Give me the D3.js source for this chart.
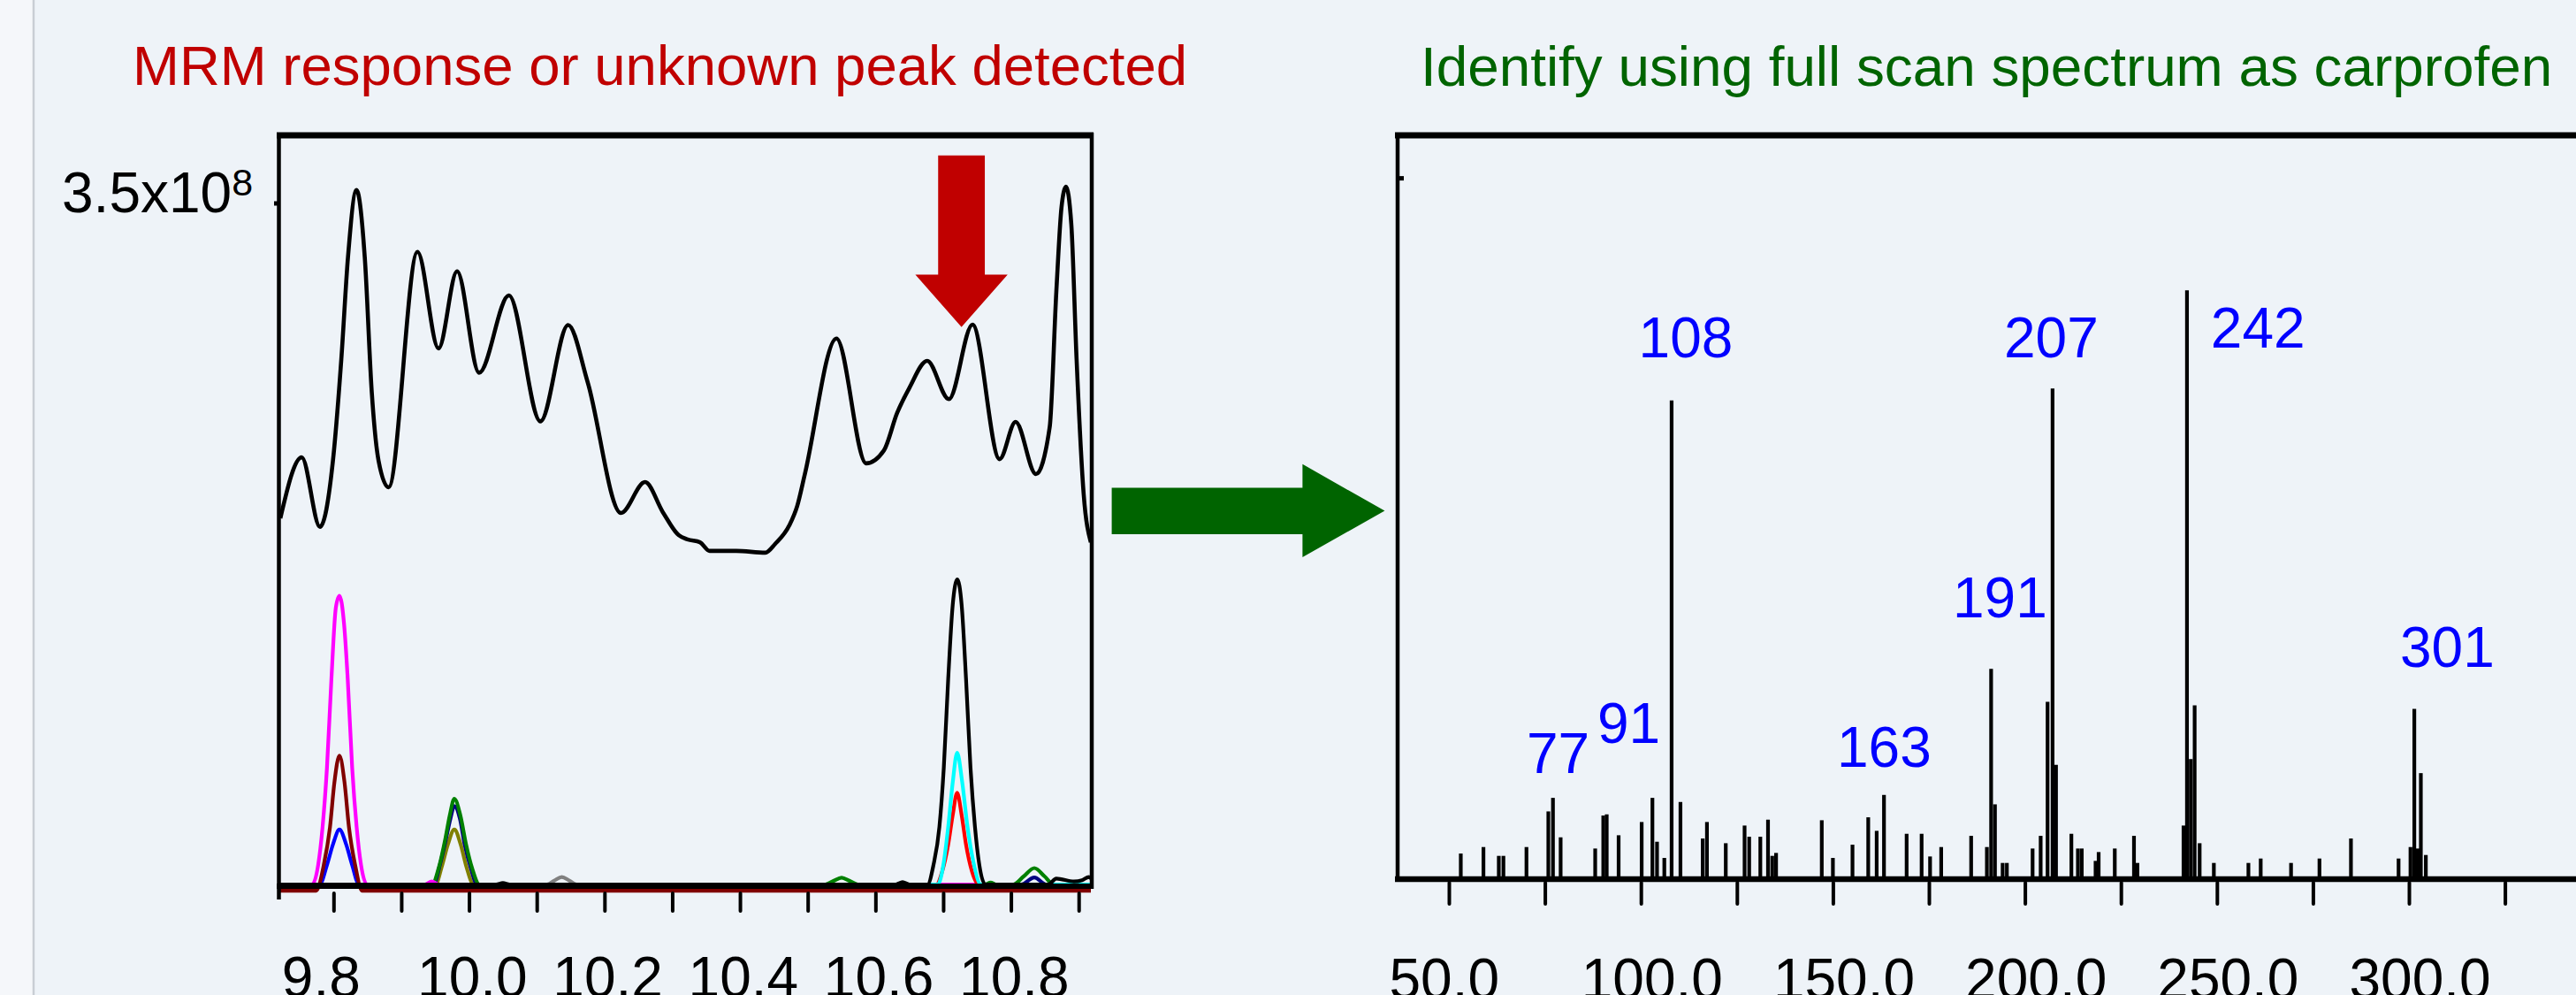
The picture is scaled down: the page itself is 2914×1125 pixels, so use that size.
<!DOCTYPE html>
<html>
<head>
<meta charset="utf-8">
<script src="https://cdn.jsdelivr.net/npm/d3@7"></script>
<style>
html, body { margin: 0; padding: 0; overflow: hidden; background: #eef3f8; }
svg { display: block; }
text { font-family: "Liberation Sans", Arial, sans-serif; }
</style>
</head>
<body>
<svg width="2914" height="1125"></svg>
<script>
// ---- left panel: total ion chromatogram (x10^8) ----
const ticTime = [9.7215, 9.753, 9.78, 9.7991, 9.8115, 9.8213, 9.8339, 9.8461, 9.8565, 9.8665,
  9.8813, 9.9239, 9.955, 9.9824, 10.0149, 10.0589, 10.1054, 10.1463, 10.1751, 10.2243,
  10.2599, 10.286, 10.3095, 10.3226, 10.3409, 10.3552, 10.3944, 10.4375, 10.4519, 10.4728,
  10.4845, 10.4958, 10.5424, 10.5863, 10.6124, 10.632, 10.6499, 10.6764, 10.7084, 10.7433,
  10.7833, 10.8069, 10.8369, 10.8572, 10.867, 10.8747, 10.8813, 10.8891, 10.8969, 10.9074, 10.9179];
const ticIntensity = [1.882, 2.195, 1.838, 2.177, 2.7, 3.223, 3.569, 3.223, 2.527, 2.177,
  2.041, 3.251, 2.755, 3.151, 2.63, 3.027, 2.38, 2.875, 2.582, 1.909,
  2.068, 1.914, 1.795, 1.773, 1.759, 1.714, 1.714, 1.705, 1.75, 1.845,
  1.945, 2.109, 2.806, 2.164, 2.23, 2.423, 2.551, 2.691, 2.494, 2.877,
  2.186, 2.377, 2.109, 2.35, 3.045, 3.482, 3.586, 3.395, 2.7, 2.005, 1.759];

// MRM transitions, [time, intensity]
const mrmMagenta = [[9.72,0],[9.7685,0],[9.7773,0.1],[9.7838,0.295],[9.7903,0.6],[9.7969,1.059],[9.8034,1.423],[9.8087,1.484],[9.8157,1.332],[9.8209,1.059],[9.8275,0.6],[9.8341,0.295],[9.8406,0.1],[9.8493,0],[9.935,0],[9.945,0.015],[9.955,0],[10.918,0]];
const mrmMaroon = [[9.72,-0.032],[9.7743,-0.032],[9.7856,0.1],[9.7948,0.296],[9.8013,0.525],[9.8087,0.662],[9.8162,0.525],[9.8227,0.296],[9.8319,0.1],[9.8422,-0.032],[10.918,-0.032]];
const mrmBlue = [[9.72,0],[9.7795,0],[9.7903,0.1],[9.7991,0.205],[9.8087,0.282],[9.8187,0.205],[9.8275,0.1],[9.8376,0],[10.918,0]];
const mrmGreen = [[9.72,0],[9.9454,0],[9.9564,0.1],[9.9651,0.236],[9.9717,0.357],[9.9783,0.441],[9.9871,0.357],[9.9957,0.205],[10.0046,0.083],[10.0154,0],[10.526,0],[10.538,0.018],[10.55,0.035],[10.562,0.018],[10.574,0],[10.762,0],[10.77,0.01],[10.778,0],[10.8037,0],[10.819,0.042],[10.8345,0.084],[10.8495,0.042],[10.8627,0],[10.918,0]];
const mrmNavy = [[9.72,0],[9.9479,0],[9.957,0.1],[9.9662,0.236],[9.9727,0.34],[9.9783,0.403],[9.9864,0.34],[9.9936,0.205],[10.0027,0.083],[10.0119,0],[10.815,0],[10.8345,0.036],[10.852,0],[10.918,0]];
const mrmOlive = [[9.72,0],[9.9505,0],[9.9597,0.09],[9.9688,0.205],[9.9783,0.282],[9.9877,0.205],[9.9962,0.09],[10.0067,0],[10.918,0]];
const mrmGray = [[9.72,0],[10.115,0],[10.126,0.02],[10.137,0.038],[10.148,0.02],[10.159,0],[10.918,0]];
const mrmCyan = [[9.72,0],[10.692,0],[10.7009,0.114],[10.7074,0.296],[10.7141,0.525],[10.7206,0.677],[10.7281,0.525],[10.7359,0.296],[10.7447,0.114],[10.7556,0],[10.918,0]];
const mrmRed = [[9.72,0],[10.6899,0],[10.6986,0.068],[10.7074,0.205],[10.7141,0.357],[10.7206,0.471],[10.7272,0.357],[10.7337,0.205],[10.7424,0.068],[10.7525,0],[10.918,0]];
const mrmBlack = [[9.72,0],[10.04,0],[10.05,0.008],[10.06,0],[10.63,0],[10.64,0.012],[10.65,0],[10.6769,0],[10.6856,0.099],[10.6944,0.296],[10.7009,0.601],[10.7074,1.057],[10.7141,1.438],[10.7208,1.568],[10.7272,1.438],[10.7337,1.057],[10.7403,0.601],[10.7469,0.296],[10.7534,0.099],[10.7621,0],[10.855,0],[10.867,0.03],[10.893,0.015],[10.905,0.022],[10.915,0.038],[10.918,0.03]];

const rtTicks = [9.8, 9.9, 10.0, 10.1, 10.2, 10.3, 10.4, 10.5, 10.6, 10.7, 10.8, 10.9];
const ticTopTick = 3.5;
const arrowPeak = [10.727, 2.865];

// ---- right panel: full scan spectrum (% of base peak) ----
const specMz = [53.1, 59.0, 63.0, 64.2, 70.2, 75.9, 77.1, 79.1, 88.1, 90.2, 91.1, 94.2, 100.2, 103.0,
  104.2, 106.1, 108.0, 110.3, 116.1, 117.2, 122.1, 127.0, 128.2, 131.1, 133.1, 134.2, 135.2, 147.1,
  150.0, 155.1, 159.2, 161.4, 163.3, 169.2, 173.1, 175.3, 178.2, 186.0, 190.1, 191.2, 192.2, 194.2,
  195.3, 202.0, 204.1, 205.9, 207.2, 208.1, 212.1, 213.8, 214.8, 218.4, 219.2, 223.4, 228.4, 229.3,
  241.3, 242.2, 243.2, 244.2, 245.5, 249.2, 258.2, 261.4, 269.3, 276.7, 284.9, 297.3, 300.4, 301.4,
  302.3, 303.1, 304.4];
const specIntensity = [4.35, 5.45, 3.95, 3.95, 5.45, 11.5, 13.8, 7.1, 5.2, 10.8, 11.0, 7.45, 9.7, 13.8,
  6.35, 3.6, 81.3, 13.1, 6.9, 9.7, 6.1, 9.1, 7.2, 7.2, 10.1, 3.95, 4.45, 10.0,
  3.6, 5.85, 10.5, 8.2, 14.3, 7.7, 7.7, 3.85, 5.45, 7.35, 5.45, 35.7, 12.7, 2.75,
  2.75, 5.2, 7.35, 30.1, 83.3, 19.4, 7.7, 5.2, 5.2, 3.1, 4.6, 5.2, 7.35, 2.75,
  9.1, 100, 20.4, 29.5, 6.1, 2.75, 2.75, 3.5, 2.75, 3.5, 6.9, 3.5, 5.45, 28.9,
  5.2, 18.0, 4.1];

const peakLabels = ["77", "91", "108", "163", "191", "207", "242", "301"];
const labelMz = [70.26, 88.67, 99.4, 151.06, 181.2, 194.57, 248.4, 297.7];
const labelLevel = [18.0, 23.2, 88.6, 19.0, 44.4, 88.6, 90.2, 36.1];

const mzTicks = [50, 75, 100, 125, 150, 175, 200, 225, 250, 275, 300, 325];
const specTopTick = 119;

const titleLeft = "MRM response or unknown peak detected";
const titleRight = "Identify using full scan spectrum as carprofen";

// ---- drawing ----
const svg = d3.select("svg");
svg.append("rect").attr("width", 2914).attr("height", 1125).attr("fill", "#eef3f8");
svg.append("rect").attr("width", 37).attr("height", 1125).attr("fill", "#f5f7fa");
svg.append("line").attr("x1", 38).attr("x2", 38).attr("y1", 0).attr("y2", 1125)
  .attr("stroke", "#c9ced4").attr("stroke-width", 2.5);

const xL = d3.scaleLinear().domain([9.72, 10.918]).range([316, 1234]);
const yL = d3.scaleLinear().domain([0, 3.85]).range([1000, 153]);

const lineL = d3.line()
  .x(d => xL(d[0]))
  .y(d => yL(d[1]))
  .curve(d3.curveMonotoneX);

const traces = [
  { data: mrmGray, color: "#808080" },
  { data: mrmOlive, color: "#808000" },
  { data: mrmNavy, color: "#000080" },
  { data: mrmGreen, color: "#008000" },
  { data: mrmBlue, color: "#0000ff" },
  { data: mrmMaroon, color: "#800000" },
  { data: mrmMagenta, color: "#ff00ff" },
  { data: mrmRed, color: "#ff0000" },
  { data: mrmCyan, color: "#00ffff" },
  { data: mrmBlack, color: "#000000" }
];

svg.append("g").selectAll("path")
  .data(traces)
  .join("path")
  .attr("fill", "none")
  .attr("stroke", d => d.color)
  .attr("stroke-width", 4.2)
  .attr("stroke-linejoin", "round")
  .attr("d", d => lineL(d.data));

svg.append("path")
  .datum(d3.zip(ticTime, ticIntensity))
  .attr("fill", "none")
  .attr("stroke", "#000")
  .attr("stroke-width", 4.6)
  .attr("stroke-linejoin", "round")
  .attr("d", lineL);

// x axis, left
const axL = svg.append("g")
  .attr("transform", `translate(0,${yL(0) + 2})`)
  .call(d3.axisBottom(xL).tickValues(rtTicks).tickSize(28).tickSizeOuter(0)
    .tickFormat(d => Math.round(d * 10) % 2 === 0 ? d.toFixed(1) : ""));
axL.select(".domain").attr("stroke-width", 6).attr("d", `M${xL.range()[0] - 3},0H${xL.range()[1] + 3}`);
axL.selectAll(".tick line").attr("stroke-width", 4).attr("stroke-linecap", "round").attr("y1", 8);
axL.selectAll(".tick text")
  .attr("font-size", 64).attr("fill", "#000").attr("font-family", "Liberation Sans, Arial, sans-serif")
  .attr("text-anchor", "start").attr("x", -59).attr("y", 125).attr("dy", 0);

// frame, left
const [l0, l1] = xL.range();
const topL = yL.range()[1];
svg.append("line").attr("x1", l0 - 3).attr("x2", l1 + 3).attr("y1", topL).attr("y2", topL)
  .attr("stroke", "#000").attr("stroke-width", 7);
svg.append("line").attr("x1", l0 - 0.5).attr("x2", l0 - 0.5).attr("y1", topL - 3).attr("y2", 1017)
  .attr("stroke", "#000").attr("stroke-width", 4.5);
svg.append("line").attr("x1", l1 + 1).attr("x2", l1 + 1).attr("y1", topL - 3).attr("y2", 1005)
  .attr("stroke", "#000").attr("stroke-width", 4.5);
svg.append("line").attr("x1", l0 - 6).attr("x2", l0).attr("y1", yL(ticTopTick)).attr("y2", yL(ticTopTick))
  .attr("stroke", "#000").attr("stroke-width", 5);

const yLabel = svg.append("text")
  .attr("x", l0 - 246).attr("y", yL(ticTopTick) + 10)
  .attr("font-size", 64).attr("fill", "#000")
  .text("3.5x10");
yLabel.append("tspan").attr("font-size", 43).attr("dy", -19.5).text("8");

// red arrow onto the unknown peak
const tipX = xL(arrowPeak[0]), tipY = yL(arrowPeak[1]);
svg.append("polygon")
  .attr("fill", "#c00000")
  .attr("points", [
    [tipX - 26.4, tipY - 194], [tipX + 26.4, tipY - 194], [tipX + 26.4, tipY - 59.3],
    [tipX + 52.2, tipY - 59.3], [tipX, tipY], [tipX - 52.2, tipY - 59.3], [tipX - 26.4, tipY - 59.3]
  ].map(p => p.join(",")).join(" "));

// green arrow between panels
svg.append("polygon")
  .attr("fill", "#006400")
  .attr("points", [
    [1257.6, 551.6], [1473.4, 551.6], [1473.4, 524.8], [1566.4, 577.6],
    [1473.4, 630], [1473.4, 604], [1257.6, 604]
  ].map(p => p.join(",")).join(" "));

// ---- right panel ----
const xR = d3.scaleLinear().domain([36.65, 345]).range([1581, 2920.5]);
const yR = d3.scaleLinear().domain([0, 126.3]).range([994, 153]);

svg.append("g").selectAll("line")
  .data(d3.zip(specMz, specIntensity))
  .join("line")
  .attr("x1", d => xR(d[0])).attr("x2", d => xR(d[0]))
  .attr("y1", yR(0)).attr("y2", d => yR(d[1]))
  .attr("stroke", "#000").attr("stroke-width", 4.2);

const axR = svg.append("g")
  .attr("transform", `translate(0,${yR(0)})`)
  .call(d3.axisBottom(xR).tickValues(mzTicks).tickSize(28).tickSizeOuter(0)
    .tickFormat(d => d % 50 === 0 ? d.toFixed(1) : ""));
axR.select(".domain").attr("stroke-width", 6.6).attr("d", `M${xR.range()[0] - 3},0H${xR.range()[1]}`);
axR.selectAll(".tick line").attr("stroke-width", 4).attr("stroke-linecap", "round").attr("y1", 4);
axR.selectAll(".tick text")
  .attr("font-size", 64).attr("fill", "#000").attr("font-family", "Liberation Sans, Arial, sans-serif")
  .attr("text-anchor", "start").attr("x", -68).attr("y", 135).attr("dy", 0);

const r0 = xR.range()[0];
const topR = yR.range()[1];
svg.append("line").attr("x1", r0 - 3).attr("x2", xR.range()[1]).attr("y1", topR).attr("y2", topR)
  .attr("stroke", "#000").attr("stroke-width", 7);
svg.append("line").attr("x1", r0).attr("x2", r0).attr("y1", topR - 3).attr("y2", yR(0))
  .attr("stroke", "#000").attr("stroke-width", 4.5);
svg.append("line").attr("x1", r0).attr("x2", r0 + 7).attr("y1", yR(specTopTick)).attr("y2", yR(specTopTick))
  .attr("stroke", "#000").attr("stroke-width", 5);

svg.append("g").selectAll("text")
  .data(peakLabels)
  .join("text")
  .attr("x", (d, i) => xR(labelMz[i]))
  .attr("y", (d, i) => yR(labelLevel[i]))
  .attr("font-size", 64)
  .attr("fill", "#0000ff")
  .text(d => d);

// titles
svg.append("text").attr("x", 150).attr("y", 96.4)
  .attr("font-size", 63.5).attr("fill", "#c00000").text(titleLeft);
svg.append("text").attr("x", 1607).attr("y", 96.5)
  .attr("font-size", 63.8).attr("fill", "#006400").text(titleRight);
</script>
</body>
</html>
